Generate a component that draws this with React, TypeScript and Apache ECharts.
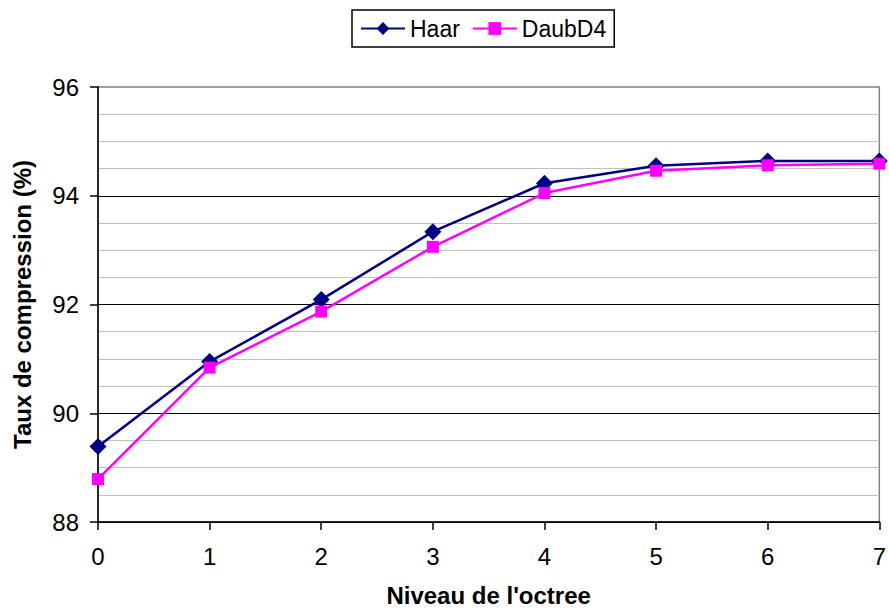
import React, { useEffect, useRef } from "react";
import * as echarts from "echarts";

const levels = [0, 1, 2, 3, 4, 5, 6, 7];
const haar = [89.39, 90.95, 92.09, 93.34, 94.23, 94.55, 94.64, 94.64];
const daub = [88.79, 90.84, 91.87, 93.06, 94.05, 94.46, 94.56, 94.59];
const seriesNames = ["Haar", "DaubD4"];
const xTitle = "Niveau de l'octree";
const yTitle = "Taux de compression (%)";

export default function App() {
  const ref = useRef<HTMLDivElement>(null);
  useEffect(() => {
    document.body.style.margin = "0";
    const chart = echarts.init(ref.current!, null, { renderer: "svg" });
    const font = "'Liberation Sans', Arial, sans-serif";
    chart.setOption({
      animation: false,
      backgroundColor: "#ffffff",
      textStyle: { fontFamily: font },
      legend: {
        top: 10,
        left: 352,
        data: seriesNames,
        borderColor: "#000",
        borderWidth: 1.5,
        padding: [7, 8, 7, 8],
        itemGap: 12,
        itemWidth: 44,
        itemHeight: 16,
        textStyle: { fontFamily: font, fontSize: 23, color: "#000" },
      },
      grid: {
        left: 98,
        right: 9,
        top: 87,
        bottom: 86,
        show: true,
        borderColor: "#808080",
        borderWidth: 1.5,
      },
      xAxis: {
        type: "value",
        min: 0,
        max: 7,
        interval: 1,
        name: xTitle,
        nameLocation: "middle",
        nameGap: 61,
        nameTextStyle: { fontFamily: font, fontSize: 24, fontWeight: "bold", color: "#000" },
        axisLine: { show: true, lineStyle: { color: "#000", width: 1.5 } },
        axisTick: { show: true, length: 8, inside: false, lineStyle: { color: "#000", width: 1.5 } },
        axisLabel: { fontFamily: font, fontSize: 24, color: "#000", margin: 22 },
        splitLine: { show: false },
      },
      yAxis: {
        type: "value",
        min: 88,
        max: 96,
        interval: 2,
        name: yTitle,
        nameLocation: "middle",
        nameGap: 64,
        nameTextStyle: { fontFamily: font, fontSize: 24, fontWeight: "bold", color: "#000" },
        axisLine: { show: true, lineStyle: { color: "#000", width: 1.5 } },
        axisTick: { show: true, length: 8, lineStyle: { color: "#000", width: 1.5 } },
        axisLabel: { fontFamily: font, fontSize: 24, color: "#000", margin: 19 },
        splitLine: { show: true, showMaxLine: false, lineStyle: { color: "#000", width: 1.2 } },
        minorTick: { show: false, splitNumber: 4 },
        minorSplitLine: { show: true, lineStyle: { color: "#c0c0c0", width: 1.2 } },
      },
      series: [
        {
          name: seriesNames[0],
          type: "line",
          data: levels.map((x, i) => [x, haar[i]]),
          symbol: "diamond",
          symbolSize: 17,
          color: "#000080",
          lineStyle: { width: 2.5, color: "#000080" },
          itemStyle: { color: "#000080" },
          z: 3,
        },
        {
          name: seriesNames[1],
          type: "line",
          data: levels.map((x, i) => [x, daub[i]]),
          symbol: "rect",
          symbolSize: 12,
          color: "#ff00ff",
          lineStyle: { width: 2.5, color: "#ff00ff" },
          itemStyle: { color: "#ff00ff" },
          z: 4,
        },
      ],
    });
    return () => chart.dispose();
  }, []);
  return (
    <div
      ref={ref}
      style={{ position: "fixed", left: 0, top: 0, width: 889, height: 612 }}
    />
  );
}
